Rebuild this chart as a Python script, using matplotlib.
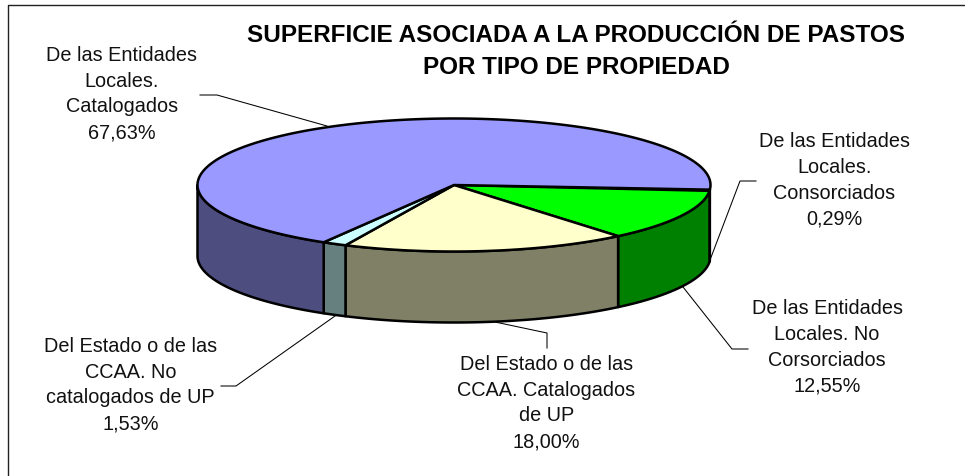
import numpy as np
import matplotlib
matplotlib.use("Agg")
import matplotlib.pyplot as plt
from matplotlib.patches import Polygon

plt.rcParams['font.family'] = ['Liberation Sans', 'DejaVu Sans']

# Data (clockwise from the right edge of the pie)
labels = ["De las Entidades\nLocales.\nConsorciados\n0,29%",
          "De las Entidades\nLocales. No\nCorsorciados\n12,55%",
          "Del Estado o de las\nCCAA. Catalogados\nde UP\n18,00%",
          "Del Estado o de las\nCCAA. No\ncatalogados de UP\n1,53%",
          "De las Entidades\nLocales.\nCatalogados\n67,63%"]
values = [0.29, 12.55, 18.00, 1.53, 67.63]
top_colors = ["#000080", "#00FF00", "#FFFFCC", "#CCFFFF", "#9999FF"]
side_colors = ["#000040", "#008000", "#808066", "#668080", "#4D4D80"]
title = "SUPERFICIE ASOCIADA A LA PRODUCCIÓN DE PASTOS\nPOR TIPO DE PROPIEDAD"

label_pos = [(834.5, 180.5), (827, 347.5), (546.5, 403), (130.5, 385), (122, 94)]
leaders = [[(756, 181), (740, 181), (710, 260)],
           [(683, 287), (732, 349), (748, 349)],
           [(495, 322), (547, 333), (547, 348)],
           [(335, 316), (236, 386), (221, 386)],
           [(200, 95), (217, 95), (327, 126)]]

# pie geometry in pixels
cx, cy, rx, ry, depth = 454, 185, 256.5, 66.5, 71
start = 4


def arc(a, b, dy=0):
    t = np.radians(np.linspace(a, b, max(int(abs(b - a)) * 2, 2)))
    return np.column_stack([cx + rx * np.cos(t), cy + ry * np.sin(t) + dy])


fig = plt.figure(figsize=(9.65, 4.76), dpi=100)
ax = fig.add_axes([0, 0, 1, 1])
ax.set_xlim(0, 965)
ax.set_ylim(476, 0)
ax.axis('off')

# frame, only left and top edges are inside the picture
ax.plot([7.5, 7.5, 965], [476, 4.5, 4.5], color='#202020', lw=1)

edges = start + np.cumsum([0] + values) * 3.6
for a, b, side in zip(edges[:-1], edges[1:], side_colors):
    lo, hi = max(a, 0), min(b, 180)
    if lo < hi:
        upper = arc(lo, hi)
        lower = arc(hi, lo, depth)
        ax.add_patch(Polygon(np.vstack([upper, lower]), closed=True, fc=side,
                             ec='black', lw=1.8, joinstyle='round', zorder=2))
for a, b, top in zip(edges[:-1], edges[1:], top_colors):
    pts = np.vstack([[(cx, cy)], arc(a, b)])
    ax.add_patch(Polygon(pts, closed=True, fc=top, ec='black', lw=1.8,
                         joinstyle='round', zorder=3))

for pts in leaders:
    xs, ys = zip(*pts)
    ax.plot(xs, ys, color='black', lw=0.75, zorder=1)

for (x, y), txt in zip(label_pos, labels):
    ax.text(x, y, txt, ha='center', va='center', fontsize=14.3, linespacing=1.45,
            color='#111111')

ax.text(576, 51.5, title, ha='center', va='center', fontsize=17.5, fontweight='bold',
        linespacing=1.5)

fig.savefig("out.png", dpi=100)
